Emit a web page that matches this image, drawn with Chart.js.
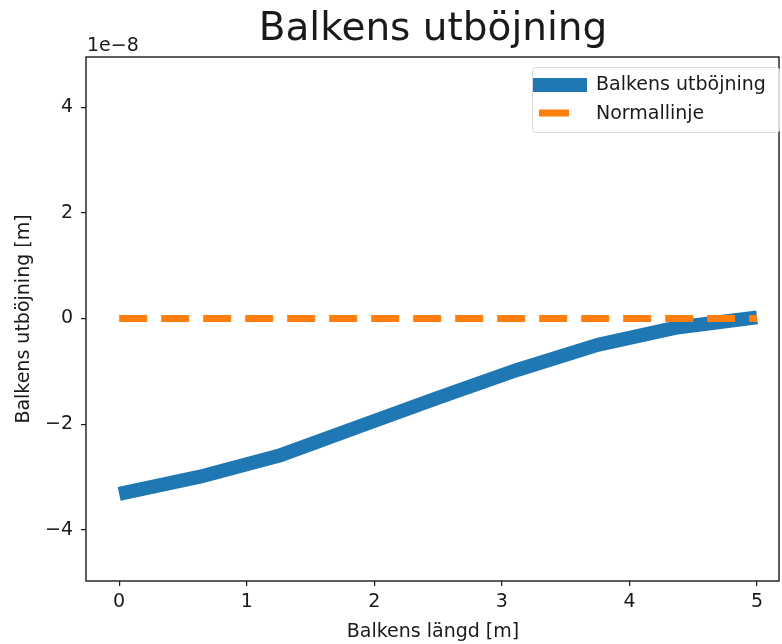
<!DOCTYPE html>
<html>
<head>
<meta charset="utf-8">
<script src="https://cdn.jsdelivr.net/npm/chart.js@4/dist/chart.umd.min.js"></script>
<style>
  html, body { margin: 0; padding: 0; background: #fff; }
  #wrap { width: 782px; height: 644px; }
</style>
</head>
<body>
<div id="wrap"><canvas id="beamChart" width="782" height="644"></canvas></div>
<script>
// beam positions [m] and deflection [m]
const positions = [0, 0.625, 1.25, 1.875, 2.5, 3.125, 3.75, 4.375, 5];
const deflection = [-3.32e-8, -3.0e-8, -2.6e-8, -2.05e-8, -1.5e-8, -0.97e-8, -0.5e-8, -0.17e-8, 0.02e-8];
const normalX = [0, 5];
const normalY = [0, 0];
const xTicks = [0, 1, 2, 3, 4, 5];
const yTicks = [-4e-8, -2e-8, 0, 2e-8, 4e-8];

const FONT = 'DejaVu Sans';
const ink = '#1a1a1a';
const small = 19;

const fmt = v => {
    const n = Math.round(v);
    return n < 0 ? '\u2212' + Math.abs(n) : String(n);
};

const extras = {
    id: 'extras',
    afterDraw(chart) {
        const { ctx, chartArea: a } = chart;
        ctx.save();
        // frame
        ctx.strokeStyle = ink;
        ctx.lineWidth = 1.4;
        ctx.strokeRect(a.left, a.top, a.right - a.left - 1, a.bottom - a.top);

        ctx.fillStyle = ink;
        ctx.textAlign = 'center';
        ctx.textBaseline = 'alphabetic';
        ctx.font = `39px "${FONT}"`;
        ctx.fillText('Balkens utböjning', (a.left + a.right) / 2, 40);

        ctx.font = `${small}px "${FONT}"`;
        ctx.fillText('Balkens längd [m]', (a.left + a.right) / 2, 637);

        ctx.save();
        ctx.translate(24, (a.top + a.bottom) / 2);
        ctx.rotate(-Math.PI / 2);
        ctx.textBaseline = 'middle';
        ctx.fillText('Balkens utböjning [m]', 0, 0);
        ctx.restore();

        ctx.textAlign = 'left';
        ctx.fillText('1e\u22128', a.left + 1, 51);

        // legend
        const lx = 532, ly = 67, lw = 247, lh = 65;
        ctx.fillStyle = 'rgba(255,255,255,0.8)';
        ctx.strokeStyle = '#d6d6d6';
        ctx.lineWidth = 1;
        ctx.beginPath();
        ctx.roundRect(lx + 0.5, ly + 0.5, lw, lh, 3);
        ctx.fill();
        ctx.stroke();

        const ds = chart.data.datasets;
        ctx.lineCap = 'butt';
        ctx.strokeStyle = ds[0].borderColor;
        ctx.lineWidth = ds[0].borderWidth;
        ctx.beginPath();
        ctx.moveTo(lx + 1, 85);
        ctx.lineTo(lx + 55, 85);
        ctx.stroke();

        ctx.strokeStyle = ds[1].borderColor;
        ctx.lineWidth = ds[1].borderWidth;
        ctx.beginPath();
        ctx.moveTo(lx + 7, 113);
        ctx.lineTo(lx + 37, 113);
        ctx.stroke();

        ctx.fillStyle = ink;
        ctx.font = `${small}px "${FONT}"`;
        ctx.textBaseline = 'middle';
        ctx.fillText(ds[0].label, 596, 85);
        ctx.fillText(ds[1].label, 596, 114);
        ctx.restore();
    }
};

new Chart(document.getElementById('beamChart'), {
    type: 'line',
    data: {
        datasets: [{
            label: 'Balkens utböjning',
            data: positions.map((x, i) => ({ x: x, y: deflection[i] })),
            borderColor: '#1f77b4',
            borderWidth: 14,
            borderJoinStyle: 'round',
            borderCapStyle: 'butt',
            pointRadius: 0,
            fill: false,
            tension: 0,
            order: 2
        }, {
            label: 'Normallinje',
            data: normalX.map((x, i) => ({ x: x, y: normalY[i] })),
            borderColor: '#ff7f0e',
            borderWidth: 7,
            borderDash: [28, 14],
            borderCapStyle: 'butt',
            pointRadius: 0,
            fill: false,
            order: 1
        }]
    },
    options: {
        responsive: false,
        animation: false,
        devicePixelRatio: 1,
        layout: { padding: { top: 57, right: 2, left: 0, bottom: 0 } },
        plugins: {
            legend: { display: false },
            tooltip: { enabled: false },
            title: { display: false }
        },
        scales: {
            x: {
                type: 'linear',
                min: -0.26,
                max: 5.18,
                afterBuildTicks: s => { s.ticks = xTicks.map(v => ({ value: v })); },
                afterFit: s => { s.height = 63; },
                grid: { drawOnChartArea: false, drawTicks: true, tickLength: 5, color: ink, lineWidth: 1.2 },
                border: { display: false },
                ticks: {
                    color: ink,
                    padding: 5,
                    maxRotation: 0,
                    font: { family: FONT, size: small },
                    callback: v => fmt(v)
                }
            },
            y: {
                type: 'linear',
                min: -4.97e-8,
                max: 4.95e-8,
                afterBuildTicks: s => { s.ticks = yTicks.map(v => ({ value: v })); },
                afterFit: s => { s.width = 86; },
                grid: { drawOnChartArea: false, drawTicks: true, tickLength: 5, color: ink, lineWidth: 1.2 },
                border: { display: false },
                ticks: {
                    color: ink,
                    padding: 8,
                    font: { family: FONT, size: small },
                    callback: v => fmt(v / 1e-8)
                }
            }
        }
    },
    plugins: [extras]
});
</script>
</body>
</html>
